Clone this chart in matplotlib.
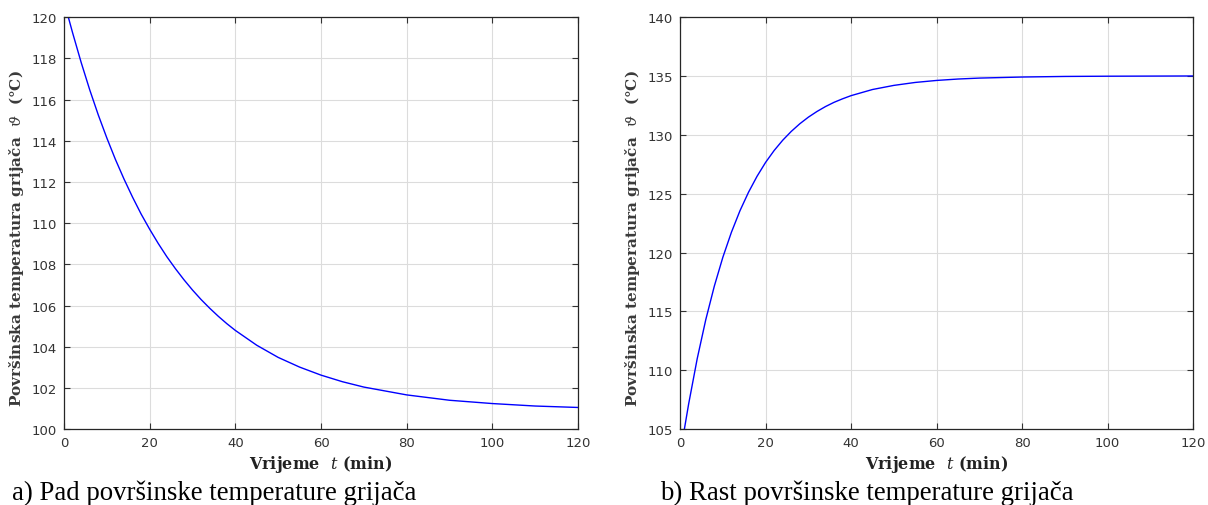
import numpy as np
import matplotlib.pyplot as plt

# values
t_pad = [1, 2, 4, 6, 8, 10, 12, 14, 16, 18, 20, 22, 24, 26, 28, 30, 32, 34, 36, 38, 40,
         45, 50, 55, 60, 65, 70, 80, 90, 100, 110, 120]
v_pad = [120.0, 119.24, 117.80, 116.47, 115.25, 114.13, 113.09, 112.14, 111.26, 110.44, 109.70,
         109.01, 108.37, 107.79, 107.25, 106.75, 106.29, 105.87, 105.48, 105.12, 104.79,
         104.07, 103.48, 103.01, 102.62, 102.30, 102.04, 101.66, 101.40, 101.24, 101.12, 101.05]

t_rast = [1, 2, 4, 6, 8, 10, 12, 14, 16, 18, 20, 22, 24, 26, 28, 30, 32, 34, 36, 38, 40,
          45, 50, 55, 60, 65, 70, 80, 90, 100, 110, 120]
v_rast = [105.0, 107.14, 110.98, 114.29, 117.14, 119.60, 121.72, 123.55, 125.12, 126.48, 127.66,
          128.67, 129.54, 130.29, 130.94, 131.50, 131.98, 132.40, 132.76, 133.06, 133.33,
          133.85, 134.20, 134.45, 134.62, 134.74, 134.82, 134.91, 134.96, 134.98, 134.99, 135.0]

x_ticks = [0, 20, 40, 60, 80, 100, 120]
y_ticks_pad = list(range(100, 121, 2))
y_ticks_rast = list(range(105, 141, 5))

ylabel = r'Površinska temperatura grijača  $\vartheta$  (°C)'
xlabel = r'Vrijeme  $t$ (min)'
captions = ['a) Pad površinske temperature grijača', 'b) Rast površinske temperature grijača']

plt.rcParams['mathtext.fontset'] = 'dejavuserif'

fig = plt.figure(figsize=(12.08, 5.06), dpi=100)
ax1 = fig.add_axes([0.053, 0.150, 0.4255, 0.8142])
ax2 = fig.add_axes([0.563, 0.150, 0.4247, 0.8142])


def style(ax, t, v, yticks):
    ax.plot(t, v, color='#0000ff', lw=1.0)
    ax.set_xlim(0, 120)
    ax.set_ylim(yticks[0], yticks[-1])
    ax.set_xticks(x_ticks)
    ax.set_yticks(yticks)
    ax.grid(True, color='#dcdcdc', lw=0.8)
    ax.tick_params(direction='in', top=True, right=True, length=4, width=0.8,
                   labelsize=9.5, colors='#333333', pad=5)
    for s in ax.spines.values():
        s.set_color('#262626')
        s.set_linewidth(0.9)
    ax.set_ylabel(ylabel, fontsize=11, fontweight='bold', color='#3a3a3a', family='DejaVu Serif')
    ax.yaxis.set_label_coords(-0.074, 0.465)
    ax.set_xlabel(xlabel, fontsize=11.5, fontweight='bold', color='#222222',
                  family='DejaVu Serif', labelpad=3)


style(ax1, t_pad, v_pad, y_ticks_pad)
style(ax2, t_rast, v_rast, y_ticks_rast)

fig.text(0.010, 0.012, captions[0], fontsize=19.3, family='Liberation Serif', color='black', va='baseline')
fig.text(0.546, 0.012, captions[1], fontsize=19.3, family='Liberation Serif', color='black', va='baseline')

fig.savefig('out.png', dpi=100)
